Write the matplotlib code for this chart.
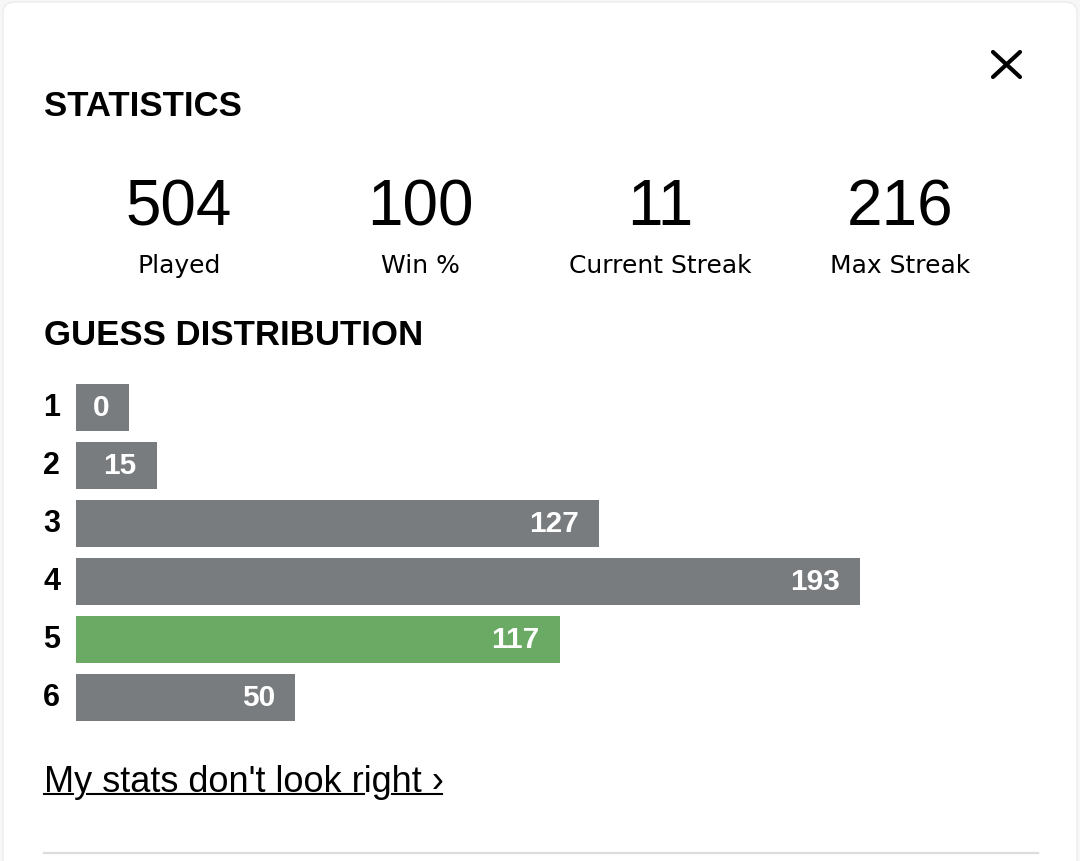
import matplotlib
matplotlib.use("Agg")
import matplotlib.pyplot as plt
from matplotlib.patches import FancyBboxPatch
from matplotlib.lines import Line2D

# ---- data ----
stat_values = ["504", "100", "11", "216"]
stat_labels = ["Played", "Win %", "Current Streak", "Max Streak"]
guess_labels = ["1", "2", "3", "4", "5", "6"]
guess_counts = [0, 15, 127, 193, 117, 50]
highlight_row = 4  # index of the last game's guess (5)
title_text = "STATISTICS"
dist_title = "GUESS DISTRIBUTION"
link_text = "My stats don't look right \u203a"

GRAY = "#787c7e"
GREEN = "#6aaa64"

W, H = 1080, 862
fig = plt.figure(figsize=(W / 100, H / 100), dpi=100)
fig.patch.set_facecolor("#f7f7f7")


def fx(x):
    return x / W


def fy(y):
    return 1 - y / H


# card
card = FancyBboxPatch((fx(3), fy(H + 40)), fx(W - 6), (H + 37) / H,
                      boxstyle="round,pad=0,rounding_size=0.012",
                      transform=fig.transFigure, facecolor="white",
                      edgecolor="#ececec", linewidth=1, zorder=-5)
fig.patches.append(card)

bold = dict(family=["Liberation Sans", "DejaVu Sans"], weight="bold", color="black")
reg = dict(family=["Liberation Sans", "DejaVu Sans"], color="black")

# close icon
for (x0, y0, x1, y1) in [(993, 53, 1020, 78), (993, 78, 1020, 53)]:
    fig.add_artist(Line2D([fx(x0), fx(x1)], [fy(y0), fy(y1)], transform=fig.transFigure,
                          color="black", lw=3.0, solid_capstyle="round"))

# headings
fig.text(fx(44), fy(116), title_text, ha="left", va="baseline", fontsize=25, **bold)
fig.text(fx(44), fy(345), dist_title, ha="left", va="baseline", fontsize=25, **bold)

# statistics
centers = [179, 420, 660, 900]
for cx, v, lab in zip(centers, stat_values, stat_labels):
    fig.text(fx(cx), fy(225), v, ha="center", va="baseline", fontsize=46, **reg)
    fig.text(fx(cx), fy(273), lab, ha="center", va="baseline", fontsize=18,
             family="DejaVu Sans", color="black")

# guess distribution bars
PAD = 5.44      # bar padding (data units) before zero
MINW = 13.42    # minimum bar width (data units)
XMAX = 238.1
top_px, bot_px = 379.5, 727.5
ax = fig.add_axes([fx(76), fy(bot_px), fx(1038 - 76), (bot_px - top_px) / H], zorder=2)
ax.set_xlim(-PAD, XMAX)
ax.set_ylim(len(guess_counts) - 0.5, -0.5)
for s in ax.spines.values():
    s.set_visible(False)
ax.set_facecolor("none")
ax.set_xticks([])

ypos = list(range(len(guess_counts)))
widths = [max(c + PAD, MINW) for c in guess_counts]
colors = [GREEN if i == highlight_row else GRAY for i in ypos]
ax.barh(ypos, widths, left=-PAD, height=0.81, color=colors, linewidth=0)
for i, (c, w) in enumerate(zip(guess_counts, widths)):
    ax.annotate(str(c), xy=(-PAD + w, i), xytext=(-20, 0), textcoords="offset pixels",
                ha="right", va="center", fontsize=21.5, color="white",
                family=["Liberation Sans", "DejaVu Sans"], weight="bold")
ax.set_yticks(ypos)
ax.set_yticklabels(guess_labels, fontsize=22, fontweight="bold",
                   family=["Liberation Sans", "DejaVu Sans"], va="center")
ax.tick_params(axis="y", length=0, pad=11.5)

# link
fig.text(fx(44), fy(792), link_text, ha="left", va="baseline", fontsize=26, **reg)
for (a, b) in [(44, 73), (87, 364), (392, 442)]:
    fig.add_artist(Line2D([fx(a), fx(b)], [fy(795), fy(795)], transform=fig.transFigure,
                          color="black", lw=1.5))

# bottom divider
fig.add_artist(Line2D([fx(44), fx(1038)], [fy(854), fy(854)], transform=fig.transFigure,
                      color="#dcdcdc", lw=1.6))

fig.savefig("out.png", dpi=100, facecolor=fig.get_facecolor())
